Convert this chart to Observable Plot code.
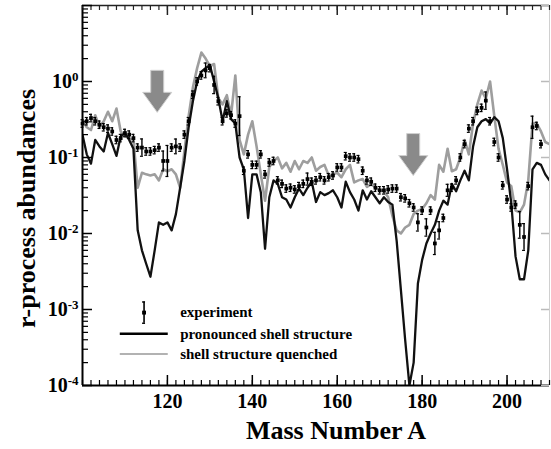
<!DOCTYPE html>
<html><head><meta charset="utf-8">
<script src="https://cdn.jsdelivr.net/npm/d3@7"></script>
<script src="https://cdn.jsdelivr.net/npm/@observablehq/plot@0.6"></script>
<style>
body{margin:0;background:#fff;}
</style>
</head><body><div id="chart"></div>
<script>
// ---------- data ----------
const massA = [100,101,102,103,104,105,106,107,108,109,110,111,112,113,114,115,116,117,118,119,
120,121,122,123,124,125,126,127,128,129,130,131,132,133,134,135,136,137,138,139,
140,141,142,143,144,145,146,147,148,149,150,151,152,153,154,155,156,157,158,159,
160,161,162,163,164,165,166,167,168,169,170,171,172,173,174,175,176,177,178,179,
180,181,182,183,184,185,186,187,188,189,190,191,192,193,194,195,196,197,198,199,
200,201,202,203,204,205,206,207,208,209,210];

const pronounced = [0.20,0.11,0.083,0.17,0.14,0.12,0.21,0.15,0.105,0.19,
0.21,0.17,0.13,0.011,0.006,0.004,0.0027,0.006,0.014,0.013,
0.014,0.011,0.018,0.04,0.09,0.25,0.55,1.0,1.35,1.5,
1.65,1.0,0.6,0.3,0.55,0.32,0.28,0.1,0.07,0.016,
0.06,0.06,0.035,0.0063,0.03,0.05,0.045,0.03,0.028,0.022,
0.03,0.039,0.032,0.04,0.048,0.026,0.035,0.032,0.034,0.037,
0.03,0.022,0.048,0.035,0.028,0.02,0.037,0.028,0.036,0.03,
0.025,0.03,0.026,0.024,0.008,0.0018,0.0004,0.0001,0.0002,0.0022,
0.0045,0.0074,0.01,0.013,0.02,0.027,0.024,0.045,0.036,0.05,
0.067,0.05,0.14,0.25,0.3,0.32,0.28,0.34,0.3,0.18,
0.07,0.025,0.005,0.0025,0.0025,0.006,0.07,0.085,0.08,0.06,0.05];

const quenched = [0.31,0.25,0.23,0.36,0.25,0.3,0.4,0.3,0.44,0.22,
0.19,0.18,0.17,0.04,0.063,0.06,0.058,0.06,0.05,0.07,
0.066,0.07,0.06,0.04,0.12,0.35,0.83,1.5,2.4,2.0,
1.6,1.7,0.6,0.5,0.66,0.36,1.2,0.17,0.11,0.2,
0.3,0.14,0.06,0.027,0.075,0.09,0.1,0.072,0.085,0.065,
0.09,0.07,0.09,0.085,0.1,0.067,0.075,0.08,0.058,0.06,
0.063,0.055,0.07,0.08,0.047,0.05,0.052,0.041,0.045,0.04,
0.037,0.036,0.03,0.017,0.011,0.01,0.012,0.013,0.018,0.02,
0.021,0.025,0.032,0.028,0.08,0.065,0.13,0.066,0.07,0.1,
0.17,0.11,0.28,0.5,0.76,0.6,1.0,0.35,0.13,0.08,
0.047,0.042,0.02,0.019,0.024,0.05,0.28,0.28,0.22,0.16,0.15];

const expA = [100,101,102,103,104,105,106,107,108,109,110,111,112,113,114,115,116,117,118,119,
120,121,122,123,124,125,126,127,128,129,130,131,132,133,134,135,136,137,138,139,
140,141,142,143,144,145,146,147,148,149,150,151,152,153,154,155,156,157,158,159,
160,161,162,163,164,165,166,167,168,169,170,171,172,173,174,175,176,177,178,179,
180,181,182,183,184,185,186,187,188,189,190,191,192,193,194,195,196,197,198,199,
200,201,202,203,204,205,206,207,208];

const expY = [0.28,0.3,0.33,0.3,0.27,0.25,0.24,0.22,0.17,0.18,
0.21,0.2,0.18,0.135,0.135,0.12,0.12,0.125,0.135,0.09,
0.09,0.135,0.14,0.135,0.2,0.3,0.67,1.0,1.2,1.4,
1.5,0.9,0.55,0.3,0.38,0.36,0.28,0.35,0.067,0.11,
0.08,0.08,0.11,0.06,0.086,0.09,0.05,0.045,0.039,0.04,
0.038,0.042,0.045,0.052,0.048,0.05,0.055,0.05,0.055,0.058,
0.074,0.074,0.104,0.1,0.1,0.095,0.067,0.05,0.048,0.04,
0.037,0.037,0.038,0.039,0.039,0.03,0.029,0.025,0.022,0.014,
0.02,0.012,0.02,0.0074,0.011,0.016,0.037,0.04,0.05,0.1,
0.15,0.24,0.3,0.41,0.45,0.56,0.3,0.16,0.1,0.043,
0.028,0.022,0.024,0.013,0.009,0.042,0.25,0.26,0.15];

// multiplicative uncertainty factor of each experimental point
const expErr = [1.12,1.12,1.12,1.12,1.12,1.12,1.12,1.12,1.12,1.12,
1.12,1.12,1.12,1.12,1.3,1.12,1.12,1.12,1.12,1.35,
1.6,1.12,1.25,1.12,1.12,1.12,1.12,1.12,1.12,1.25,
1.12,1.3,1.12,1.12,1.12,1.12,1.12,1.8,1.12,1.12,
1.12,1.12,1.12,1.12,1.12,1.12,1.12,1.12,1.12,1.12,
1.12,1.12,1.12,1.2,1.12,1.12,1.12,1.12,1.12,1.12,
1.12,1.12,1.12,1.12,1.12,1.12,1.12,1.12,1.12,1.12,
1.12,1.12,1.12,1.12,1.12,1.12,1.12,1.12,1.12,1.3,
1.12,1.3,1.12,1.4,1.3,1.12,1.2,1.12,1.12,1.12,
1.12,1.12,1.12,1.12,1.12,1.3,1.12,1.12,1.12,1.12,
1.12,1.12,1.12,1.5,1.5,1.12,1.4,1.12,1.12];

// arrows marking the shell closures (mass number, abundance at the arrow head base)
const arrowA = [117.6, 177.9];
const arrowY = [0.72, 0.106];

const xTickLabels = [120, 140, 160, 180, 200];
const yTickLabels = [1e-4, 1e-3, 1e-2, 1e-1, 1e0];
const legendLabels = ["experiment", "pronounced shell structure", "shell structure quenched"];
const xTitle = "Mass Number A";
const yTitle = "r-process abundances";

// ---------- derived tables ----------
const black = massA.map((a, i) => ({A: a, y: pronounced[i]}));
const gray = massA.map((a, i) => ({A: a, y: quenched[i]}));
const expData = expA.map((a, i) => ({A: a, y: expY[i], lo: expY[i] / expErr[i], hi: expY[i] * expErr[i]}));
const arrows = arrowA.map((a, i) => ({A: a, y: arrowY[i]}));

const xMinor = d3.range(100, 211, 2);
const yMinor = [];
for (let e = -4; e <= 0; e++) for (let k = 2; k <= 9; k++) yMinor.push(k * Math.pow(10, e));
const yMajor = [1e-4, 1e-3, 1e-2, 1e-1, 1e0, 1e1];

// legend layout (in data space)
const legX = {sym: 114.5, x1: 108.9, x2: 120.2, text: 123.0};
const legY = [9.1e-4, 4.8e-4, 2.6e-4];

const FW = 467, FH = 380;

const arrowSymbol = {
  draw(ctx, size) {
    const r = Math.sqrt(size / Math.PI);
    const p = [[-6.5,-22],[6.5,-22],[6.5,0],[14.5,0],[0,20],[-14.5,0],[-6.5,0]];
    ctx.moveTo(p[0][0]*r, p[0][1]*r);
    for (let i = 1; i < p.length; i++) ctx.lineTo(p[i][0]*r, p[i][1]*r);
    ctx.closePath();
  }
};

const font = "'Liberation Serif', 'Times New Roman', serif";

const chart = Plot.plot({
  width: 551, height: 449,
  marginLeft: 82, marginRight: 2, marginTop: 5, marginBottom: 64,
  style: {fontFamily: font, fontWeight: "bold", color: "#000", background: "#fff", overflow: "visible"},
  x: {domain: [100, 210], label: null},
  y: {type: "log", domain: [1e-4, 10], label: null},
  marks: [
    // theory curves
    Plot.line(gray, {x: "A", y: "y", stroke: "#9e9e9e", strokeWidth: 2.6, clip: true}),
    Plot.line(black, {x: "A", y: "y", stroke: "#111", strokeWidth: 2.3, clip: true}),
    // experiment with error bars
    Plot.ruleX(expData, {x: "A", y1: "lo", y2: "hi", stroke: "#000", strokeWidth: 1.4}),
    Plot.ruleY(expData, {y: "hi", x1: d => d.A - 0.35, x2: d => d.A + 0.35, stroke: "#000", strokeWidth: 1.2}),
    Plot.ruleY(expData, {y: "lo", x1: d => d.A - 0.35, x2: d => d.A + 0.35, stroke: "#000", strokeWidth: 1.2}),
    Plot.dot(expData, {x: "A", y: "y", symbol: "square", r: 2.1, fill: "#000", stroke: null}),
    // arrows
    Plot.dot(arrows, {x: "A", y: "y", symbol: arrowSymbol, r: 1, fill: "#8a8a8a", stroke: "#cfcfcf", strokeWidth: 1}),
    // frame
    Plot.ruleX([210], {stroke: "#d0d0d0", strokeWidth: 1}),
    Plot.ruleX([100], {stroke: "#000", strokeWidth: 2}),
    Plot.ruleY([1e-4], {stroke: "#000", strokeWidth: 2}),
    Plot.ruleY([10], {stroke: "#222", strokeWidth: 1.5}),
    // inward ticks: bottom / top
    Plot.tickX(xMinor, {x: d => d, insetTop: FH - 5, stroke: "#000", strokeWidth: 1.2}),
    Plot.tickX(xTickLabels, {x: d => d, insetTop: FH - 10, stroke: "#000", strokeWidth: 1.5}),
    Plot.tickX(xMinor, {x: d => d, insetBottom: FH - 5, stroke: "#222", strokeWidth: 1.2}),
    Plot.tickX(xTickLabels, {x: d => d, insetBottom: FH - 10, stroke: "#222", strokeWidth: 1.5}),
    // inward ticks: left / right
    Plot.tickY(yMinor, {y: d => d, insetRight: FW - 6, stroke: "#000", strokeWidth: 1.2}),
    Plot.tickY(yMajor, {y: d => d, insetRight: FW - 10, stroke: "#000", strokeWidth: 1.5}),
    Plot.tickY(yMajor, {y: d => d, insetLeft: FW - 8, stroke: "#bbb", strokeWidth: 1.5}),
    // tick labels
    Plot.axisX({ticks: xTickLabels, tickSize: 0, tickPadding: 8, fontSize: 20, tickFormat: d => String(d), label: null}),
    Plot.axisY({ticks: yTickLabels, tickSize: 0, tickPadding: 4, fontSize: 20, tickFormat: d => "10^" + Math.round(Math.log10(d)), label: null}),
    // titles
    Plot.text([xTitle], {frameAnchor: "bottom", dx: 20, dy: 45, fontSize: 26, fontWeight: "bold", textAnchor: "middle", lineAnchor: "middle", text: d => d}),
    Plot.text([yTitle], {frameAnchor: "left", rotate: -90, dx: -56, dy: 13, fontSize: 26, fontWeight: "bold", textAnchor: "middle", lineAnchor: "middle", text: d => d}),
    // legend
    Plot.ruleX([legX.sym], {x: d => d, y1: legY[0] / 1.38, y2: legY[0] * 1.38, stroke: "#000", strokeWidth: 1.6}),
    Plot.ruleY([legY[0] / 1.38, legY[0] * 1.38], {y: d => d, x1: legX.sym - 0.35, x2: legX.sym + 0.35, stroke: "#000", strokeWidth: 1.4}),
    Plot.dot([legX.sym], {x: d => d, y: () => legY[0], symbol: "square", r: 2.2, fill: "#000", stroke: null}),
    Plot.ruleY([legY[1]], {y: d => d, x1: legX.x1, x2: legX.x2, stroke: "#000", strokeWidth: 2.6}),
    Plot.ruleY([legY[2]], {y: d => d, x1: legX.x1, x2: legX.x2, stroke: "#999", strokeWidth: 1.4}),
    Plot.text(legendLabels, {x: () => legX.text, y: (d, i) => legY[i], text: d => d, textAnchor: "start", lineAnchor: "middle", fontSize: 15, fontWeight: "bold"})
  ]
});

// superscript exponents on the y tick labels
d3.select(chart).selectAll('g[aria-label="y-axis tick label"] text').each(function () {
  const t = this.textContent;
  const [b, e] = t.split("^");
  const s = d3.select(this);
  s.text(null);
  s.append("tspan").text(b);
  s.append("tspan").attr("dy", "-0.55em").attr("font-size", "13px").text(e);
});

document.getElementById("chart").appendChild(chart);
</script>
</body></html>
